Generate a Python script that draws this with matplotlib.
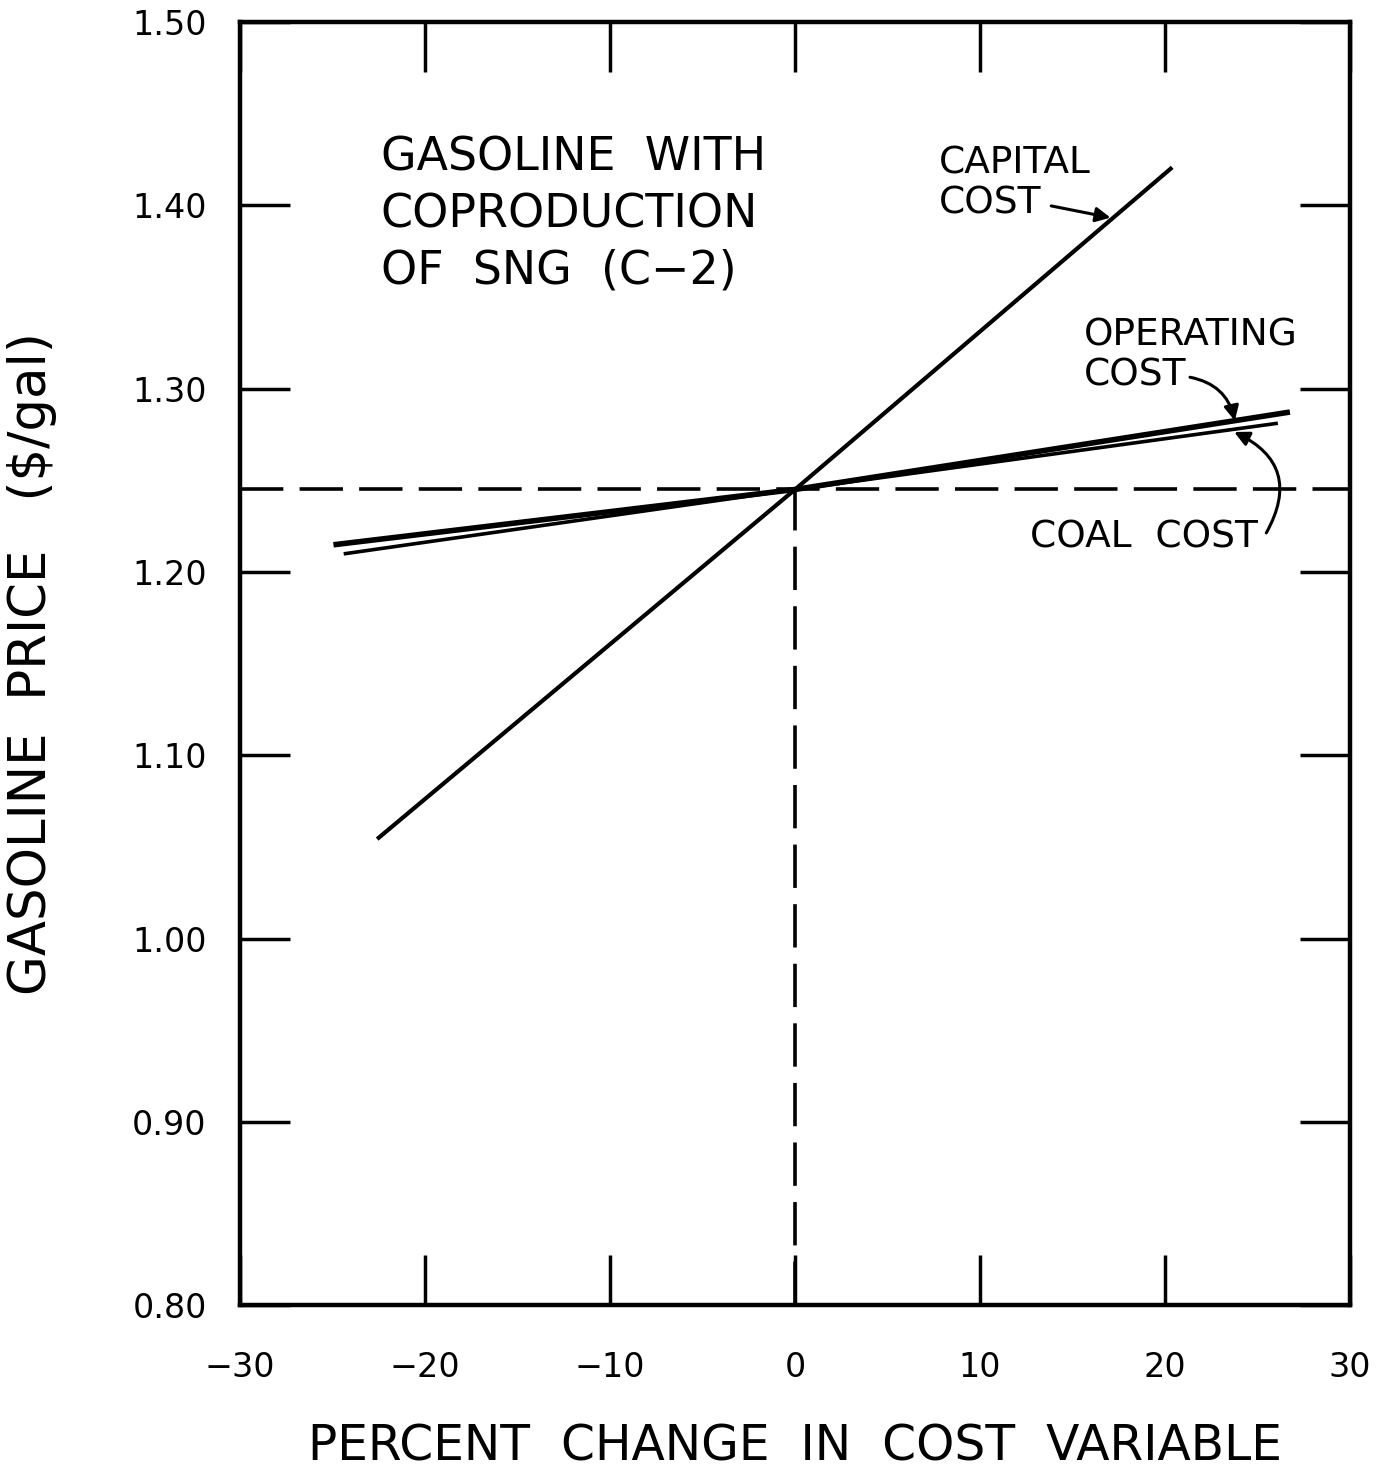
import matplotlib
matplotlib.use("Agg")
import matplotlib.pyplot as plt

# values
base_x = 0
base_price = 1.245

capital_x = [-22.5, 0, 20.3]
capital_price = [1.055, 1.245, 1.420]

operating_x = [-24.8, 0, 26.6]
operating_price = [1.215, 1.245, 1.287]

coal_x = [-24.3, 0, 26.0]
coal_price = [1.210, 1.245, 1.281]

x_ticks = [-30, -20, -10, 0, 10, 20, 30]
x_tick_labels = ["\u221230", "\u221220", "\u221210", "0", "10", "20", "30"]
y_ticks = [0.80, 0.90, 1.00, 1.10, 1.20, 1.30, 1.40, 1.50]
y_tick_labels = ["0.80", "0.90", "1.00", "1.10", "1.20", "1.30", "1.40", "1.50"]

plt.rcParams["font.family"] = ["DejaVu Sans"]

fig = plt.figure(figsize=(13.81, 14.73), dpi=100)
ax = fig.add_axes([0.1738, 0.114, 0.8038, 0.871])

ax.set_xlim(-30, 30)
ax.set_ylim(0.80, 1.50)

# reference lines through the base case
ax.axhline(base_price, color="black", lw=2.6, linestyle=(0, (12, 4.5)))
ax.plot([base_x, base_x], [0.80, base_price], color="black", lw=2.6,
        linestyle=(0, (12, 4.5)))

ax.plot(capital_x, capital_price, color="black", lw=3.0)
ax.plot(operating_x, operating_price, color="black", lw=4.0)
ax.plot(coal_x, coal_price, color="black", lw=2.6)

for s in ax.spines.values():
    s.set_linewidth(3.2)

ax.set_xticks(x_ticks)
ax.set_xticklabels(x_tick_labels)
ax.set_yticks(y_ticks)
ax.set_yticklabels(y_tick_labels)
ax.tick_params(direction="in", length=36, width=2.5, top=True, right=True,
               labelsize=24)
ax.tick_params(axis="y", pad=24)
ax.tick_params(axis="x", pad=33)

ax.set_xlabel("PERCENT  CHANGE  IN  COST  VARIABLE", fontsize=35, labelpad=28)
ax.set_ylabel("GASOLINE  PRICE   ($/gal)", fontsize=37, labelpad=54)

ax.text(-22.4, 1.395, "GASOLINE  WITH\nCOPRODUCTION\nOF  SNG  (C\u22122)",
        fontsize=33, va="center", ha="left", linespacing=1.32)

ax.text(7.8, 1.412, "CAPITAL\nCOST", fontsize=27, va="center", ha="left",
        linespacing=1.15)
ax.annotate("", xy=(17.2, 1.393), xytext=(13.7, 1.400),
            arrowprops=dict(arrowstyle="-|>", color="black", lw=2.2,
                            mutation_scale=22))

ax.text(15.6, 1.318, "OPERATING\nCOST", fontsize=27, va="center", ha="left",
        linespacing=1.12)
ax.annotate("", xy=(23.8, 1.281), xytext=(21.2, 1.3065),
            arrowprops=dict(arrowstyle="-|>", color="black", lw=2.2,
                            mutation_scale=22,
                            connectionstyle="arc3,rad=-0.35"))

ax.text(12.7, 1.219, "COAL  COST", fontsize=27, va="center", ha="left")
ax.annotate("", xy=(23.6, 1.277), xytext=(25.4, 1.220),
            arrowprops=dict(arrowstyle="-|>", color="black", lw=2.2,
                            mutation_scale=22,
                            connectionstyle="arc3,rad=0.55"))

fig.savefig("out.png", dpi=100, facecolor="white")
